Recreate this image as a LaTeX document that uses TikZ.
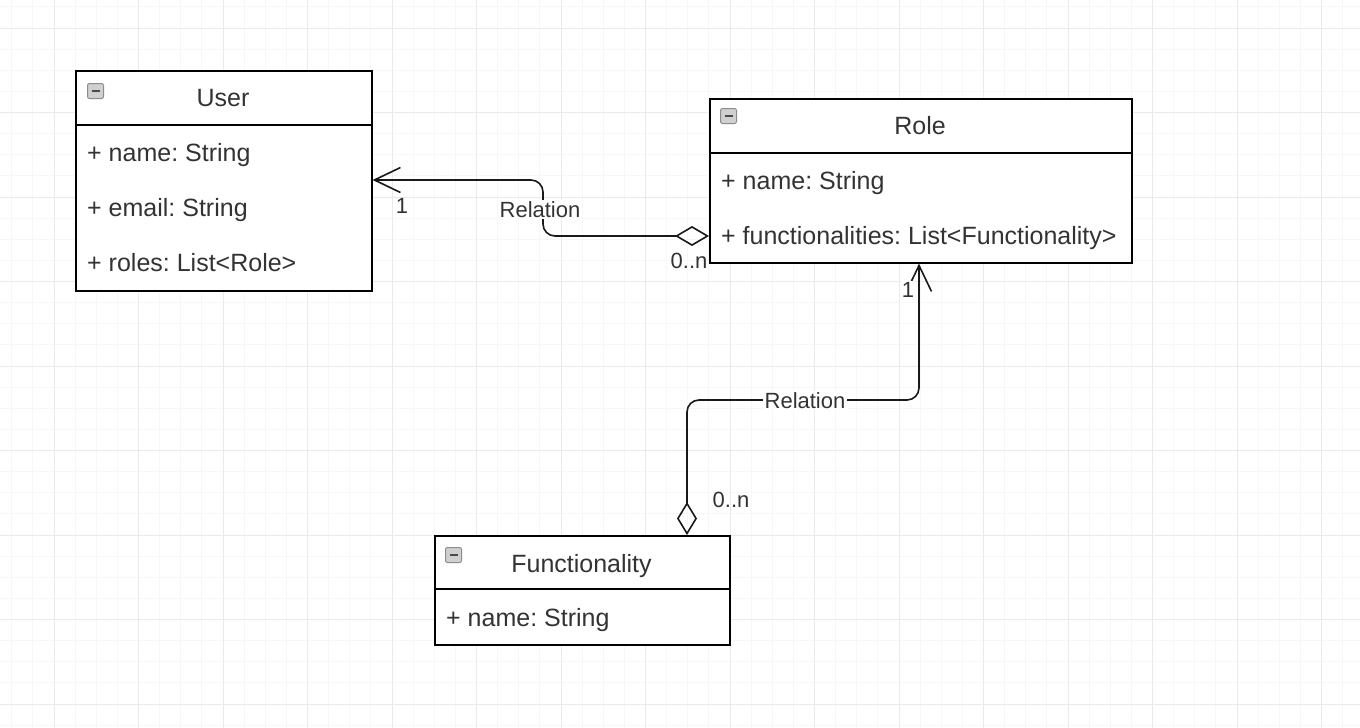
\documentclass[tikz,border=0pt]{standalone}
\usepackage{fontspec}
\setmainfont{Liberation Sans}
\usetikzlibrary{arrows.meta}
\definecolor{txt}{HTML}{333333}
\definecolor{gmaj}{HTML}{EAEAEA}
\definecolor{gmin}{HTML}{F7F7F7}
\definecolor{icfill}{HTML}{D0D0D0}
\definecolor{icdraw}{HTML}{8C8C8C}
\definecolor{icbar}{HTML}{4A4A4A}
\tikzset{
  box/.style={draw=black, line width=1.6pt, fill=white, anchor=north west, inner sep=0pt},
  sepline/.style={draw=black, line width=1.6pt},
  title/.style={anchor=base, text=txt, font=\fontsize{25}{30}\selectfont, inner sep=0pt},
  attr/.style={anchor=base west, text=txt, font=\fontsize{25}{30}\selectfont, inner sep=0pt},
  lbl/.style={anchor=base, text=txt, font=\fontsize{22}{26}\selectfont, fill=white, inner sep=1.5pt},
  mult/.style={anchor=base, text=txt, font=\fontsize{22}{26}\selectfont, inner sep=0pt},
  icon/.style={draw=icdraw, fill=icfill, rounded corners=2pt, minimum width=16pt, minimum height=15pt, inner sep=0pt, anchor=north west, line width=1pt},
  conn/.style={draw=black!90, line width=1.6pt, rounded corners=12pt},
  minorgrid/.style={draw=gmin, line width=0.8pt},
  majorgrid/.style={draw=gmaj, line width=1pt}
}
\newcommand{\iconbar}{\textcolor{icbar}{\rule[-1pt]{8pt}{2pt}}}
\frenchspacing
\begin{document}
\frenchspacing
\begin{tikzpicture}[x=1pt,y=-1pt]
\useasboundingbox (0,0) rectangle (1360,728);
\fill[white] (0,0) rectangle (1360,728);
% grid
\begin{scope}
\clip (0,0) rectangle (1360,728);
\foreach \i in {0,...,67} \draw[minorgrid] ({-30.5+21.125*\i},0) -- ({-30.5+21.125*\i},728);
\foreach \i in {0,...,38} \draw[minorgrid] (0,{-56.5+21.125*\i}) -- (1360,{-56.5+21.125*\i});
\foreach \i in {0,...,17} \draw[majorgrid] ({-30.5+84.5*\i},0) -- ({-30.5+84.5*\i},728);
\foreach \i in {0,...,9} \draw[majorgrid] (0,{-56.5+84.5*\i}) -- (1360,{-56.5+84.5*\i});
\end{scope}

% boxes
\node[box, minimum width=296pt, minimum height=220pt] (user) at (75,70) {};
\node[box, minimum width=422pt, minimum height=164pt] (role) at (709,98) {};
\node[box, minimum width=295pt, minimum height=109pt] (func) at (434,535) {};

\draw[sepline] (user.west |- 0,125) -- (user.east |- 0,125);
\draw[sepline] (role.west |- 0,153) -- (role.east |- 0,153);
\draw[sepline] (func.west |- 0,589) -- (func.east |- 0,589);

% icons
\node[icon] (uicon) at (87,83) {\iconbar};
\node[icon] (ricon) at (720,108) {\iconbar};
\node[icon] (ficon) at (445,547) {\iconbar};

% titles and attributes
\node[title] (utitle) at (223,106) {User};
\node[attr] (ua1) at (87,161) {+ name: String};
\node[attr] (ua2) at (87,216) {+ email: String};
\node[attr] (ua3) at (87,271) {+ roles: List<Role>};

\node[title] (rtitle) at (920,134) {Role};
\node[attr] (ra1) at (721,189) {+ name: String};
\node[attr] (ra2) at (721,244) {+ functionalities: List<Functionality>};

\node[title] (ftitle) at (581.5,572) {Functionality};
\node[attr] (fa1) at (446,626) {+ name: String};

% connector end points on the boxes
\coordinate (roleL) at (role.west |- 0,236);
\coordinate (userR) at (user.east |- 0,180);
\coordinate (funcT) at (func.north west -| 687,0);
\coordinate (roleB) at (role.south west -| 919,0);

\draw[conn, {Diamond[open, length=34pt, width=20pt]}-{Straight Barb[length=26pt, width=25pt]}]
  (roleL) -- (543,236) -- (543,180) -- (userR);
\draw[conn, {Diamond[open, length=33pt, width=20pt]}-{Straight Barb[length=26pt, width=25pt]}]
  (funcT) -- (687,400) -- (919,400) -- (roleB);

% labels
\node[lbl] (rel1) at (540,217) {Relation};
\node[mult] (m1a) at (402,213) {1};
\node[mult] (m1b) at (689,268) {0..n};
\node[lbl] (rel2) at (805,408) {Relation};
\node[mult, fill=white, inner sep=1pt] (m2a) at (908,297) {1};
\node[mult] (m2b) at (731,507) {0..n};
\end{tikzpicture}
\end{document}
